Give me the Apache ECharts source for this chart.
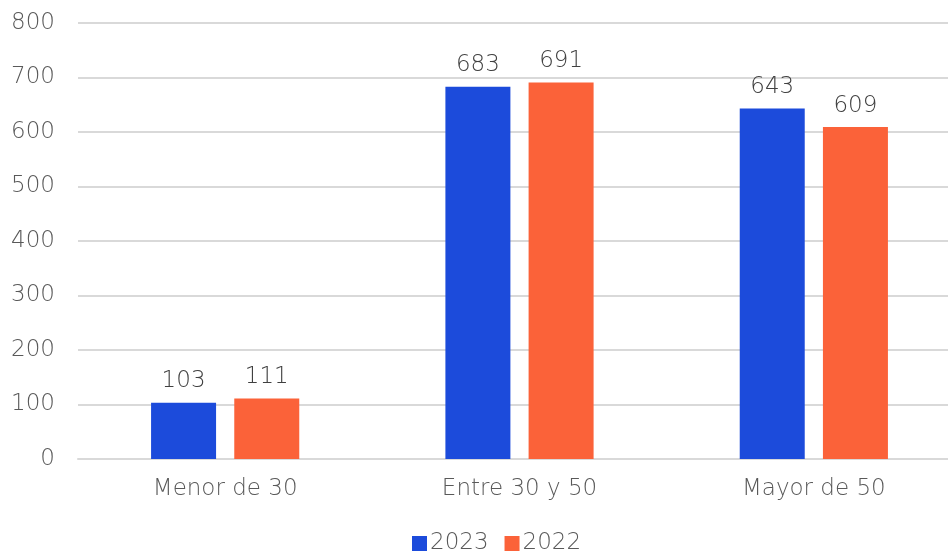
<!DOCTYPE html>
<html><head><meta charset="utf-8">
<script src="https://cdn.jsdelivr.net/npm/echarts@6/dist/echarts.min.js"></script>
<style>html,body{margin:0;padding:0;background:#fff}#c{width:948px;height:553px}</style>
</head><body><div id="c"></div>
<script>
const categories = ['Menor de 30', 'Entre 30 y 50', 'Mayor de 50'];
const values2023 = [103, 683, 643];
const values2022 = [111, 691, 609];
const seriesNames = ['2023', '2022'];

const font = '"DejaVu Sans", sans-serif';
const fw = 200;
const fs = 23;
const chart = echarts.init(document.getElementById('c'));
const labelStyle = {show: true, position: 'top', distance: 10, color: '#404040', fontSize: fs, fontFamily: font, fontWeight: fw};
chart.setOption({
  animation: false,
  textStyle: {fontFamily: font},
  grid: {left: 78, width: 883, top: 23, bottom: 94, outerBoundsMode: 'none', containLabel: false},
  legend: {
    top: 532, left: 407, itemWidth: 15, itemHeight: 15, itemGap: 16,
    icon: 'rect', padding: [0, 5],
    textStyle: {color: '#595959', fontSize: fs, fontFamily: font, fontWeight: fw, padding: [0,0,0,-2]},
    data: seriesNames
  },
  xAxis: {
    type: 'category', data: categories,
    axisLine: {show: true, lineStyle: {color: '#d9d9d9', width: 2}},
    axisTick: {show: false},
    axisLabel: {color: '#595959', fontSize: fs, fontFamily: font, fontWeight: fw, margin: 19}
  },
  yAxis: {
    type: 'value', min: 0, max: 800, interval: 100,
    axisLine: {show: false}, axisTick: {show: false},
    splitLine: {lineStyle: {color: '#d9d9d9', width: 2}},
    axisLabel: {color: '#595959', fontSize: fs, fontFamily: font, fontWeight: fw, margin: 23}
  },
  series: [
    {name: seriesNames[0], type: 'bar', data: values2023, barWidth: 65, barGap: '28%', itemStyle: {color: '#1C4BDB'}, label: labelStyle},
    {name: seriesNames[1], type: 'bar', data: values2022, barWidth: 65, itemStyle: {color: '#FB6239'}, label: labelStyle}
  ]
});
</script></body></html>
